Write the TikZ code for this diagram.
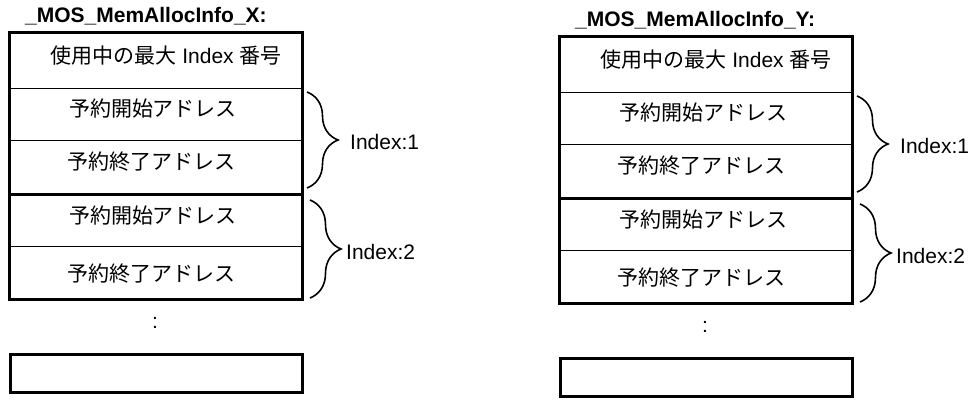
\documentclass[tikz,border=0pt]{standalone}
\usepackage{fontspec}
\setmainfont{Liberation Sans}
\newfontfamily\cjk{Noto Sans CJK JP}
\usetikzlibrary{decorations.pathreplacing}
\tikzset{
  cell/.style={draw, line width=1.3pt, minimum width=292pt, inner sep=0pt, anchor=north west},
  frame/.style={line width=3pt},
  txt/.style={font=\fontsize{21}{25}\selectfont, inner sep=0pt},
  title/.style={font=\fontsize{21}{25}\selectfont\bfseries, anchor=base west, inner sep=0pt},
  idx/.style={font=\fontsize{21}{25}\selectfont, anchor=west, inner sep=0pt},
  brc/.style={decorate, decoration={brace, amplitude=31pt}, line width=1.6pt},
}
\newcommand{\memblock}[3]{%
\begin{scope}[shift={#2}]
  \node[title] (#1title) at (16,-10) {#3};
  \node[cell, minimum height=55pt] (#1r0) at (0,0) {};
  \node[cell, minimum height=52pt] (#1r1) at (0,55) {};
  \node[cell, minimum height=53pt] (#1r2) at (0,107) {};
  \node[cell, minimum height=53pt] (#1r3) at (0,160) {};
  \node[cell, minimum height=52pt] (#1r4) at (0,213) {};
  \draw[frame] (#1r0.north west) rectangle (#1r4.south east);
  \draw[frame] (#1r2.south west) -- (#1r2.south east);
  \node[txt] (#1t0) at (157,23) {{\cjk 使用中の最大} Index {\cjk 番号}};
  \node[txt] (#1t1) at (144,76) {\cjk 予約開始アドレス};
  \node[txt] (#1t2) at (142,129) {\cjk 予約終了アドレス};
  \node[txt] (#1t3) at (144,183) {\cjk 予約開始アドレス};
  \node[txt] (#1t4) at (142,241) {\cjk 予約終了アドレス};
  \coordinate (#1b1s) at (298,59);
  \coordinate (#1b1e) at (298,155);
  \coordinate (#1b2s) at (301,167);
  \coordinate (#1b2e) at (301,265);
  \draw[brc] (#1b1s) -- (#1b1e);
  \draw[brc] (#1b2s) -- (#1b2e);
  \node[idx] (#1i1) at (341,109) {Index:1};
  \node[idx] (#1i2) at (337,219) {Index:2};
  \node[txt] (#1dots) at (146,290) {:};
  \node[cell, frame, minimum height=38pt] (#1last) at (0,320) {};
\end{scope}}
\begin{document}
\begin{tikzpicture}[x=1pt, y=-1pt]
  \useasboundingbox (0,0) rectangle (970,403);
  \memblock{x}{(9,33)}{\_MOS\_MemAllocInfo\_X:}
  \memblock{y}{(559,37)}{\_MOS\_MemAllocInfo\_Y:}
\end{tikzpicture}
\end{document}
